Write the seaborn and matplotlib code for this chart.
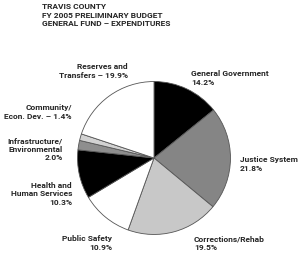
import matplotlib
matplotlib.use("Agg")
import matplotlib.pyplot as plt
import seaborn as sns

# budget shares, clockwise from 12 o'clock
categories = ["General Government", "Justice System", "Corrections/Rehab",
              "Public Safety", "Health and\nHuman Services",
              "Infrastructure/\nEnvironmental", "Community/\nEcon. Dev.",
              "Reserves and\nTransfers"]
values = [14.2, 21.8, 19.5, 10.9, 10.3, 2.0, 1.4, 19.9]
separators = ["\n", "\n", "\n", "\n", "\n", "\n", " \u2013 ", " \u2013 "]
title_lines = ["TRAVIS COUNTY", "FY 2005 PRELIMINARY BUDGET",
               "GENERAL FUND \u2013 EXPENDITURES"]

colors = ["#000000", "#858585", "#c8c8c8", "#ffffff",
          "#000000", "#8e8e8e", "#d2d2d2", "#ffffff"]

sns.set_style("white")
plt.rcParams['font.family'] = ['Roboto', 'DejaVu Sans']

W, H = 300, 254
fig = plt.figure(figsize=(W / 100, H / 100), dpi=100)

cx, cy, r = 154, 158, 78
ax = fig.add_axes([(cx - r) / W, 1 - (cy + r) / H, 2 * r / W, 2 * r / H])
ax.pie(values, colors=colors, startangle=90, counterclock=False,
       wedgeprops=dict(edgecolor="#555555", linewidth=0.6))
ax.set_aspect("equal")
ax.set_xlim(-1.02, 1.02)
ax.set_ylim(-1.02, 1.02)
ax.axis("off")

# label anchors in pixels: (x, y, alignment)
label_pos = [(191, 78, "left"), (240, 164, "left"), (194, 243, "left"),
             (112, 243, "right"), (72, 194, "right"), (63, 149, "right"),
             (72, 112, "right"), (128, 71, "right")]

for name, val, sep, (x, y, ha) in zip(categories, values, separators, label_pos):
    fig.text(x / W, 1 - y / H, f"{name}{sep}{val:.1f}%", ha=ha, va="center",
             multialignment=ha, fontsize=6.0, fontweight="bold",
             linespacing=1.25)

fig.text(42 / W, 1 - 15 / H, "\n".join(title_lines), ha="left", va="center",
         fontsize=6.0, fontweight="bold", linespacing=1.25)

fig.savefig("out.png", dpi=100, facecolor="white")
